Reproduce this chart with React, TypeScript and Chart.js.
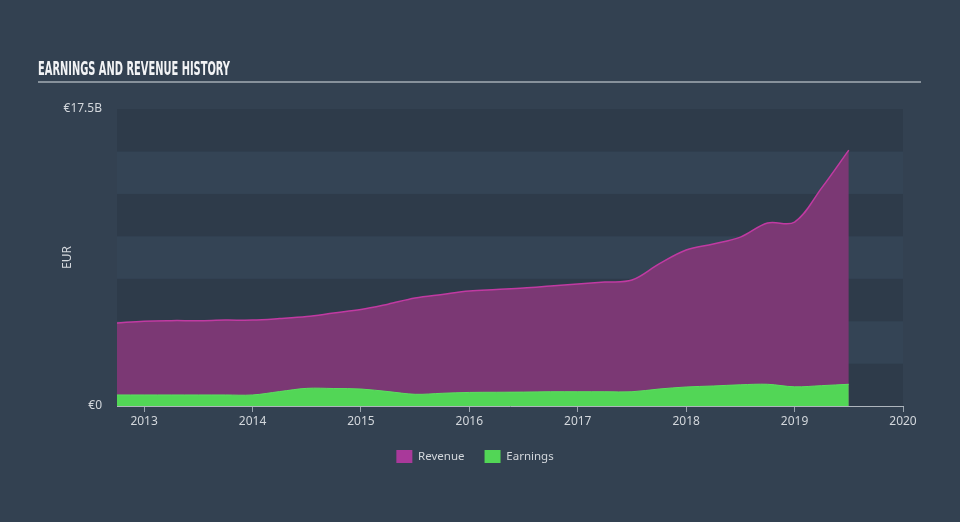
import React, { useEffect, useRef } from "react";
import { Chart, registerables } from "chart.js";

Chart.register(...registerables);

// Quarter-end points (decimal years)
const periods = [
  2012.75, 2013.0, 2013.25, 2013.5, 2013.75, 2014.0, 2014.25, 2014.5, 2014.75,
  2015.0, 2015.25, 2015.5, 2015.75, 2016.0, 2016.25, 2016.5, 2016.75, 2017.0,
  2017.25, 2017.5, 2017.75, 2018.0, 2018.25, 2018.5, 2018.75, 2019.0, 2019.25,
  2019.5,
];
// Values in billions of EUR
const revenue = [
  4.89, 5.0, 5.03, 5.03, 5.06, 5.06, 5.15, 5.27, 5.48, 5.68, 6.0, 6.36, 6.57,
  6.77, 6.86, 6.95, 7.07, 7.19, 7.3, 7.42, 8.37, 9.19, 9.54, 9.95, 10.78, 10.84,
  12.85, 15.08,
];
const earnings = [
  0.65, 0.65, 0.65, 0.65, 0.65, 0.65, 0.85, 1.04, 1.03, 1.0, 0.85, 0.69, 0.75,
  0.8, 0.81, 0.82, 0.84, 0.84, 0.84, 0.84, 1.0, 1.12, 1.18, 1.25, 1.28, 1.13,
  1.2, 1.28,
];
const xTickValues = [2013, 2014, 2015, 2016, 2017, 2018, 2019, 2020];
const yTickValues = [0, 17.5];
const yTickLabels = ["€0", "€17.5B"];
const bandStep = 2.5;

const TITLE = "EARNINGS AND REVENUE HISTORY";
const BG = "#334151";
const BAND_DARK = "#2e3b4a";
const BAND_LIGHT = "#344455";
const TEXT = "#d3d7dc";
const REV_FILL = "#7b3874";
const REV_LINE = "#c13aa2";
const REV_BOX = "#a9399a";
const EARN_FILL = "#52d656";
const EARN_LINE = "#5be05f";

export default function App() {
  const ref = useRef<HTMLCanvasElement | null>(null);

  useEffect(() => {
    document.body.style.margin = "0";
    document.body.style.background = BG;
    const canvas = ref.current;
    if (!canvas) return;

    const bgPlugin = {
      id: "bgPlugin",
      beforeDraw(chart: any) {
        const { ctx } = chart;
        ctx.save();
        ctx.fillStyle = BG;
        ctx.fillRect(0, 0, chart.width, chart.height);
        // title
        ctx.font = 'bold 20px "DejaVu Sans Condensed"';
        ctx.fillStyle = "#f2f3f5";
        ctx.textBaseline = "alphabetic";
        const w = ctx.measureText(TITLE).width;
        ctx.translate(38, 75);
        ctx.scale(192 / w, 1);
        ctx.fillText(TITLE, 0, 0);
        ctx.restore();
        ctx.save();
        ctx.strokeStyle = "#a4acb5";
        ctx.lineWidth = 1.5;
        ctx.beginPath();
        ctx.moveTo(38, 82);
        ctx.lineTo(921, 82);
        ctx.stroke();
        ctx.restore();
      },
      beforeDatasetsDraw(chart: any) {
        const { ctx, chartArea, scales } = chart;
        const y = scales.y;
        ctx.save();
        let k = 0;
        for (let v = 0; v < 17.5 - 1e-6; v += bandStep, k++) {
          const top = y.getPixelForValue(v + bandStep);
          const bot = y.getPixelForValue(v);
          ctx.fillStyle = k % 2 === 0 ? BAND_DARK : BAND_LIGHT;
          ctx.fillRect(chartArea.left, top, chartArea.right - chartArea.left, bot - top);
        }
        ctx.restore();
      },
    };

    const chart = new Chart(canvas, {
      type: "line",
      data: {
        datasets: [
          {
            label: "Revenue",
            data: periods.map((p, i) => ({ x: p, y: revenue[i] })),
            borderColor: REV_LINE,
            backgroundColor: REV_FILL,
            borderWidth: 1.5,
            fill: "origin",
            pointRadius: 0,
            tension: 0.35,
            order: 1,
          },
          {
            label: "Earnings",
            data: periods.map((p, i) => ({ x: p, y: earnings[i] })),
            borderColor: EARN_LINE,
            backgroundColor: EARN_FILL,
            borderWidth: 1,
            fill: "origin",
            pointRadius: 0,
            tension: 0.35,
            order: 0,
          },
        ],
      },
      options: {
        animation: false,
        responsive: false,
        devicePixelRatio: 1,
        layout: { padding: { left: 0, right: 10, top: 109, bottom: 49 } },
        plugins: {
          tooltip: { enabled: false },
          legend: {
            position: "bottom",
            labels: {
              boxWidth: 16,
              boxHeight: 13,
              padding: 20,
              color: TEXT,
              font: { family: "Noto Sans", size: 11.5 },
              sort: (a: any, b: any) => a.datasetIndex - b.datasetIndex,
              generateLabels: (ch: any) =>
                ch.data.datasets.map((d: any, i: number) => ({
                  text: d.label,
                  fillStyle: i === 0 ? REV_BOX : EARN_FILL,
                  strokeStyle: i === 0 ? REV_BOX : EARN_FILL,
                  lineWidth: 0,
                  fontColor: TEXT,
                  hidden: false,
                  datasetIndex: i,
                })),
            },
          },
        },
        scales: {
          x: {
            type: "linear",
            min: 2012.75,
            max: 2020,
            afterBuildTicks: (s: any) => {
              s.ticks = xTickValues.map((v) => ({ value: v }));
            },
            afterFit: (s: any) => {
              s.height = 24;
            },
            ticks: {
              color: TEXT,
              font: { family: "Noto Sans", size: 12 },
              padding: 2,
              maxRotation: 0,
              callback: (v: any) => String(v),
            },
            grid: {
              display: true,
              drawOnChartArea: false,
              drawTicks: true,
              tickLength: 6,
              color: "#9aa4ae",
            },
            border: { display: true, color: "#aeb5bd", width: 1 },
          },
          y: {
            type: "linear",
            min: 0,
            max: 17.5,
            afterBuildTicks: (s: any) => {
              s.ticks = yTickValues.map((v) => ({ value: v }));
            },
            afterFit: (s: any) => {
              s.width = 117;
            },
            ticks: {
              color: TEXT,
              font: { family: "Noto Sans", size: 12 },
              padding: 7,
              callback: (v: any) => {
                const i = yTickValues.indexOf(Number(v));
                return i >= 0 ? yTickLabels[i] : "";
              },
            },
            grid: { display: false },
            border: { display: false },
            title: {
              display: true,
              text: "EUR",
              color: TEXT,
              font: { family: "Noto Sans", size: 12 },
              padding: { top: 60, bottom: 0 },
            },
          },
          yRightSpacer: {
            type: "linear",
            position: "right",
            display: true,
            afterFit: (s: any) => {
              s.width = 47;
            },
            ticks: { display: false },
            grid: { display: false },
            border: { display: false },
          },
        },
      },
      plugins: [bgPlugin],
    });

    return () => chart.destroy();
  }, []);

  return (
    <div style={{ position: "fixed", left: 0, top: 0, width: 960, height: 522 }}>
      <canvas ref={ref} width={960} height={522} />
    </div>
  );
}
